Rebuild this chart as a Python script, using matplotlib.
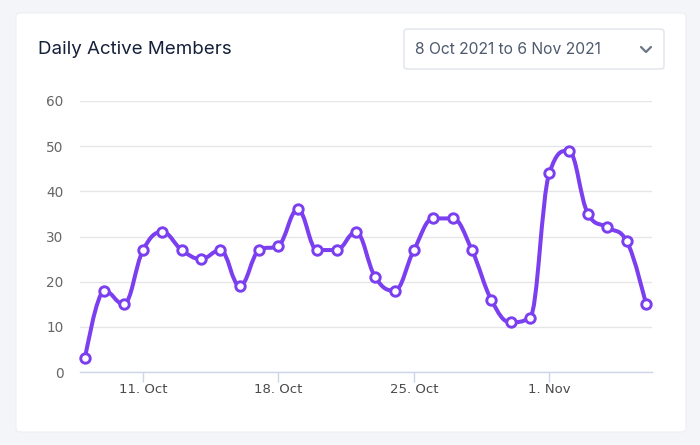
import matplotlib
matplotlib.use('Agg')
import matplotlib.pyplot as plt
import matplotlib.dates as mdates
import numpy as np
import pandas as pd
from matplotlib.patches import FancyBboxPatch, PathPatch
from matplotlib.path import Path

dates = pd.date_range('2021-10-08', '2021-11-06', freq='D')
members = [3, 18, 15, 27, 31, 27, 25, 27, 19, 27, 28, 36, 27, 27, 31,
           21, 18, 27, 34, 34, 27, 16, 11, 12, 44, 49, 35, 32, 29, 15]
tick_dates = ['2021-10-11', '2021-10-18', '2021-10-25', '2021-11-01']
tick_labels = ['11. Oct', '18. Oct', '25. Oct', '1. Nov']
y_ticks = [0, 10, 20, 30, 40, 50, 60]

PURPLE = '#7b3ff0'


def spline_path(xs, ys, smoothing=1.5):
    # highcharts-style spline: bezier segments between points
    n = len(xs)
    verts = [(xs[0], ys[0])]
    codes = [Path.MOVETO]
    prev_right = (xs[0], ys[0])
    for i in range(1, n):
        x, y = xs[i], ys[i]
        lx, ly = xs[i - 1], ys[i - 1]
        if i < n - 1:
            nx, ny = xs[i + 1], ys[i + 1]
            d = smoothing + 1
            lcx = (smoothing * x + lx) / d
            lcy = (smoothing * y + ly) / d
            rcx = (smoothing * x + nx) / d
            rcy = (smoothing * y + ny) / d
            if rcx != lcx:
                corr = (rcy - lcy) * (rcx - x) / (rcx - lcx) + y - rcy
                lcy += corr
                rcy += corr
            if lcy > ly and lcy > y:
                lcy = max(ly, y)
                rcy = 2 * y - lcy
            elif lcy < ly and lcy < y:
                lcy = min(ly, y)
                rcy = 2 * y - lcy
            if rcy > ny and rcy > y:
                rcy = max(ny, y)
                lcy = 2 * y - rcy
            elif rcy < ny and rcy < y:
                rcy = min(ny, y)
                lcy = 2 * y - rcy
            left = (lcx, lcy)
            right = (rcx, rcy)
        else:
            left = (x, y)
            right = (x, y)
        verts += [prev_right, left, (x, y)]
        codes += [Path.CURVE4] * 3
        prev_right = right
    return Path(verts, codes)


fig = plt.figure(figsize=(7, 4.45), dpi=100)
fig.patch.set_facecolor('#f4f5f9')

# card
card = FancyBboxPatch((16 / 700, 13 / 445), 670 / 700, 419 / 445,
                      boxstyle='round,pad=0,rounding_size=0.008',
                      transform=fig.transFigure, facecolor='white',
                      edgecolor='#eceef3', linewidth=0.8, zorder=-2)
fig.patches.append(card)

fig.text(38 / 700, 1 - 50 / 445, 'Daily Active Members', fontsize=13.5,
         color='#15203a', family='Inter', va='center', ha='left')

box = FancyBboxPatch((404 / 700, 1 - 69 / 445), 260 / 700, 40 / 445,
                     boxstyle='round,pad=0,rounding_size=0.006',
                     transform=fig.transFigure, facecolor='white',
                     edgecolor='#dfe3ea', linewidth=1, zorder=-1)
fig.patches.append(box)
fig.text(415 / 700, 1 - 50 / 445, '8 Oct 2021 to 6 Nov 2021', fontsize=11.3,
         color='#4e5a6e', family='Inter', va='center', ha='left')
fig.lines.append(plt.Line2D([641 / 700, 646 / 700, 651 / 700],
                            [1 - 47 / 445, 1 - 52 / 445, 1 - 47 / 445],
                            transform=fig.transFigure, color='#6b7688',
                            linewidth=1.6, solid_capstyle='round'))

ax = fig.add_axes([80 / 700, 1 - 372 / 445, 572 / 700, 271 / 445])
ax.set_facecolor('none')

x = mdates.date2num(dates)
path = spline_path(list(x), list(members))
ax.add_patch(PathPatch(path, facecolor='none', edgecolor=PURPLE,
                       linewidth=2.9, zorder=3, capstyle='round'))
ax.plot(x, members, linestyle='none', marker='o', markersize=6.8,
        markerfacecolor='white', markeredgecolor=PURPLE,
        markeredgewidth=2.1, zorder=4, clip_on=False)

ax.set_xlim(x[0] - 0.26, x[-1] + 0.31)
ax.set_ylim(0, 60)
ax.set_yticks(y_ticks)
ax.set_yticklabels([str(v) for v in y_ticks])
ax.set_xticks(mdates.date2num(pd.to_datetime(tick_dates)))
ax.set_xticklabels(tick_labels)

ax.grid(axis='y', color='#e6e6e6', linewidth=1)
ax.set_axisbelow(True)
for side in ['top', 'right', 'left']:
    ax.spines[side].set_visible(False)
ax.spines['bottom'].set_color('#ccd6eb')
ax.spines['bottom'].set_linewidth(1)
ax.tick_params(axis='y', length=0, pad=12, labelsize=9.8, labelcolor='#666666')
ax.tick_params(axis='x', length=7, width=1, color='#ccd6eb', pad=1,
               labelsize=9.5, labelcolor='#4a4a4a')
for lbl in ax.get_xticklabels() + ax.get_yticklabels():
    lbl.set_family('DejaVu Sans')

fig.savefig('out.png', dpi=100, facecolor=fig.get_facecolor())
